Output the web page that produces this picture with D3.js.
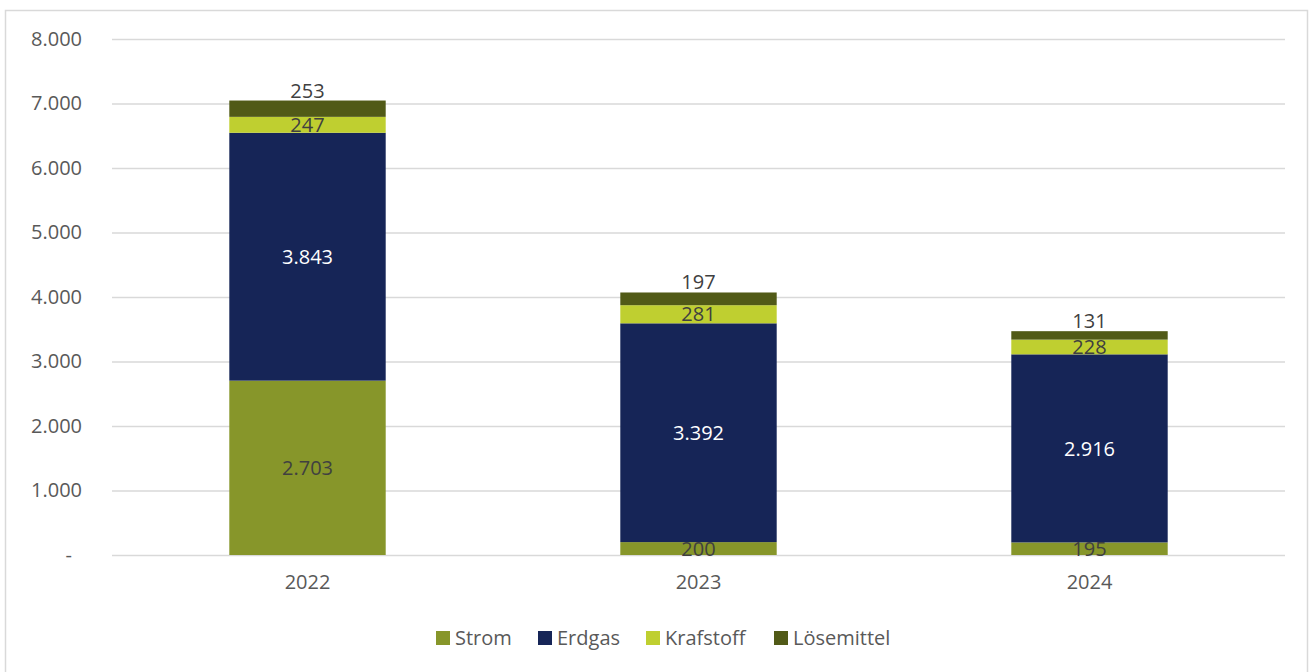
<!DOCTYPE html>
<html>
<head>
<meta charset="utf-8">
<script src="https://cdn.jsdelivr.net/npm/d3@7"></script>
<style>
    body { margin: 0; background: #fff; }
    svg { display: block; }
    svg text { font-family: "Open Sans", "Liberation Sans", sans-serif; font-size: 20px; }
</style>
</head>
<body>
<div id="chart"></div>
<script>
const years = [`2022`, `2023`, `2024`]
const seriesNames = [`Strom`, `Erdgas`, `Krafstoff`, `Lösemittel`]
const strom = [2703, 200, 195]
const erdgas = [3843, 3392, 2916]
const krafstoff = [247, 281, 228]
const loesemittel = [253, 197, 131]
const yTicks = [0, 1000, 2000, 3000, 4000, 5000, 6000, 7000, 8000]

const colors = [`#87962a`, `#162557`, `#bfcf30`, `#515a17`]
const labelColors = [`#404040`, `#ffffff`, `#404040`, `#404040`]

const width = 1313, height = 672
const margin = { left: 112, right: 28, top: 39, bottom: 117 }

const svg = d3.select(`#chart`).append(`svg`).attr(`width`, width).attr(`height`, height)

svg.append(`rect`).attr(`x`, 5.5).attr(`y`, 10.5).attr(`width`, 1302).attr(`height`, 700)
    .attr(`fill`, `none`).attr(`stroke`, `#d9d9d9`).attr(`stroke-width`, 1.5)

const x = d3.scaleBand().domain(years).range([margin.left, width - margin.right]).paddingInner(0.6).paddingOuter(0.3)
const y = d3.scaleLinear().domain([0, 8000]).range([height - margin.bottom, margin.top])

// grid
svg.append(`g`).selectAll(`line`).data(yTicks).join(`line`)
    .attr(`x1`, margin.left).attr(`x2`, width - margin.right)
    .attr(`y1`, d => y(d) + 0.5).attr(`y2`, d => y(d) + 0.5)
    .attr(`stroke`, `#d9d9d9`).attr(`stroke-width`, 1.5)

const fmt = v => v === 0 ? `-` : d3.format(`,`)(v).replace(/,/g, `.`)

const yAxis = svg.append(`g`).attr(`transform`, `translate(${margin.left - 30},0)`)
    .call(d3.axisLeft(y).tickValues(yTicks).tickFormat(fmt).tickSize(0).tickPadding(0))
yAxis.attr(`font-family`, null).attr(`font-size`, null)
yAxis.select(`.domain`).remove()
yAxis.selectAll(`text`).attr(`fill`, `#595959`)
yAxis.selectAll(`.tick`).filter(d => d === 0).select(`text`).attr(`dx`, -10)

const xAxis = svg.append(`g`).attr(`transform`, `translate(0,${y(0)})`)
    .call(d3.axisBottom(x).tickSize(0).tickPadding(20))
xAxis.attr(`font-family`, null).attr(`font-size`, null)
xAxis.select(`.domain`).remove()
xAxis.selectAll(`text`).attr(`fill`, `#595959`)

const rows = years.map((yr, i) => ({ year: yr, Strom: strom[i], Erdgas: erdgas[i], Krafstoff: krafstoff[i], 'Lösemittel': loesemittel[i] }))
const stacked = d3.stack().keys(seriesNames)(rows)

const layers = svg.append(`g`).selectAll(`g`).data(stacked).join(`g`)
    .attr(`fill`, (d, i) => colors[i])

layers.selectAll(`rect`).data(d => d).join(`rect`)
    .attr(`x`, d => x(d.data.year))
    .attr(`width`, x.bandwidth())
    .attr(`y`, d => y(d[1]))
    .attr(`height`, d => y(d[0]) - y(d[1]))

// labels
stacked.forEach((layer, li) => {
    svg.append(`g`).selectAll(`text`).data(layer).join(`text`)
        .attr(`x`, d => x(d.data.year) + x.bandwidth() / 2)
        .attr(`y`, d => li === 3 ? y(d[1]) - 3 : (y(d[0]) + y(d[1])) / 2)
        .attr(`dy`, li === 3 ? 0 : `0.36em`)
        .attr(`text-anchor`, `middle`)
        .attr(`fill`, labelColors[li])
        .text(d => fmt(d[1] - d[0]))
})

// legend
const legendX = [436, 538, 646, 774]
const legend = svg.append(`g`).selectAll(`g`).data(seriesNames).join(`g`)
    .attr(`transform`, (d, i) => `translate(${legendX[i]},638)`)
legend.append(`rect`).attr(`x`, 0).attr(`y`, -7).attr(`width`, 14).attr(`height`, 14)
    .attr(`fill`, (d, i) => colors[i])
legend.append(`text`).attr(`x`, 19).attr(`dy`, `0.36em`).attr(`fill`, `#595959`)
    .text(d => d)
</script>
</body>
</html>
